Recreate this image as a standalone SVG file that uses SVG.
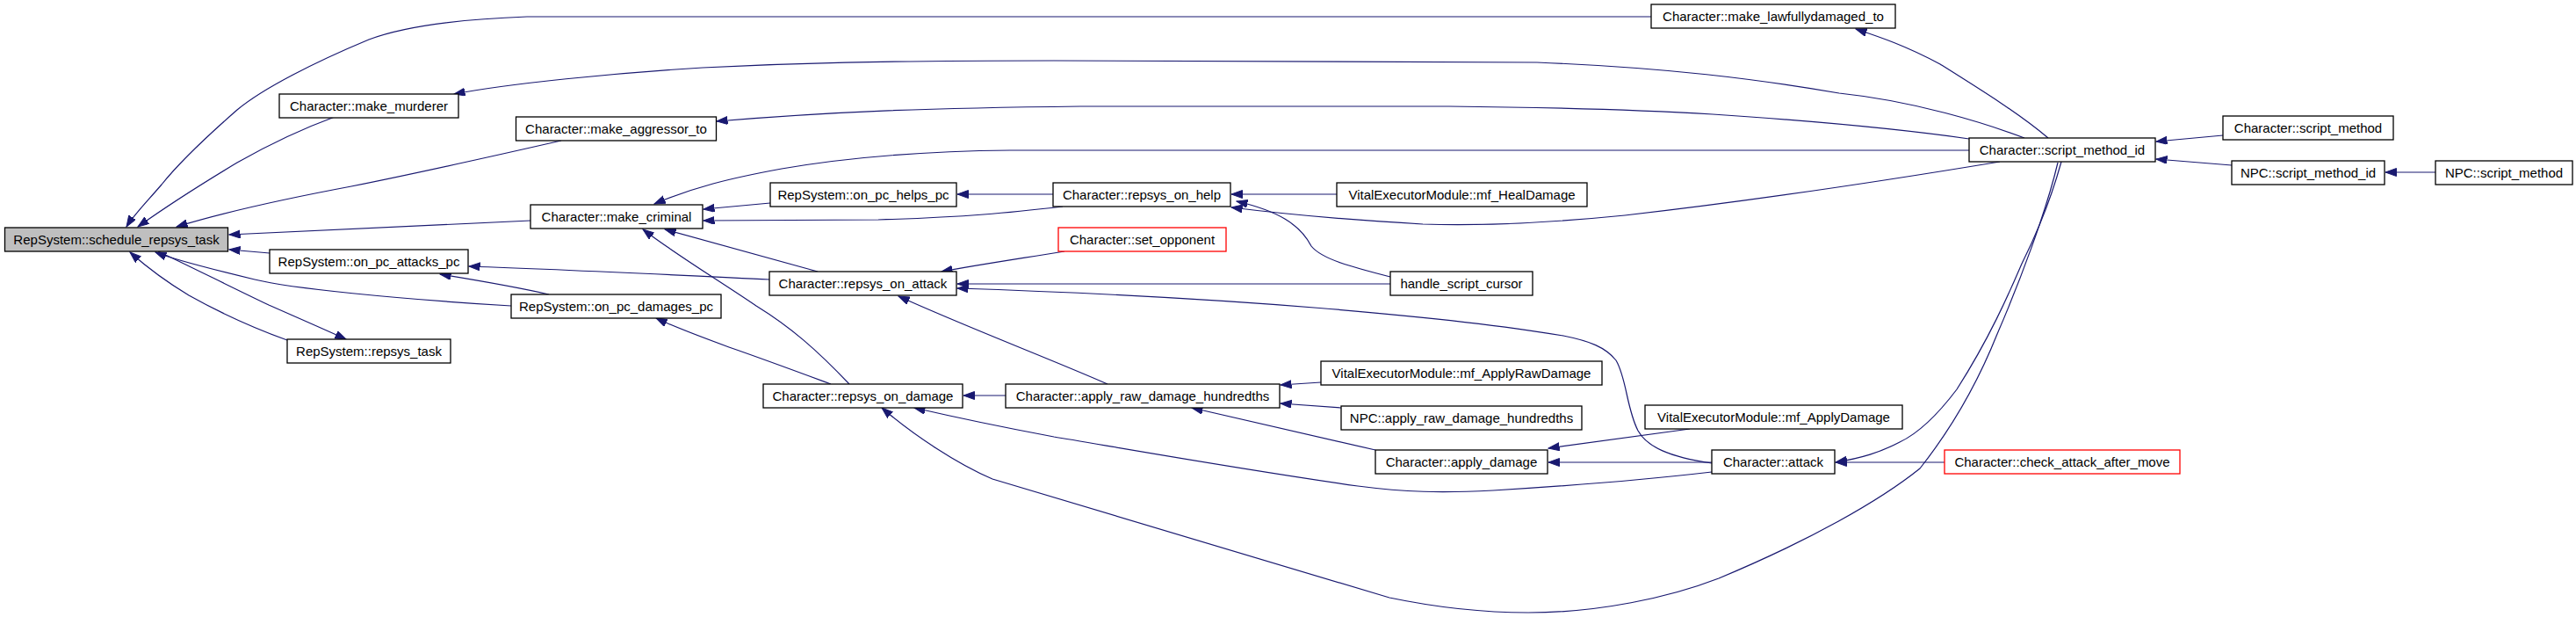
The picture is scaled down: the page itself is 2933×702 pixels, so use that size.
<svg xmlns="http://www.w3.org/2000/svg" width="2933" height="702" viewBox="0 0 2933 702">
<defs>
<style>
.n rect{fill:#ffffff;stroke:#000000;stroke-width:1.3}
.n.root rect{fill:#bfbfbf}
.n.red rect{stroke:#ff0000}
.n text{font-family:"Liberation Sans",Arial,sans-serif;font-size:15px;fill:#000000;text-anchor:middle}
#edges path{fill:none;stroke:#191970;stroke-width:1.2;marker-end:url(#ah)}
</style>
<marker id="ah" markerUnits="userSpaceOnUse" markerWidth="14" markerHeight="10" refX="12.5" refY="4.5" orient="auto">
<path d="M0,0 L12.5,4.5 L0,9 z" fill="#191970" stroke="#191970" stroke-width="1"/>
</marker>
</defs>
<rect width="2933" height="702" fill="#ffffff"/>
<g id="edges">
<path d="M1880,19 L600,19 C520,22 460,30 420,45 C360,70 300,100 270,125 C230,160 200,190 184,210 C165,232 152,245 144,258"/>
<path d="M381,133 C340,148 300,168 270,185 C220,215 185,238 157,258"/>
<path d="M639,160 C560,178 470,198 400,212 C320,227 250,243 201,258"/>
<path d="M604,251 L261,267"/>
<path d="M307,288 L261,284"/>
<path d="M582,348 C450,340 330,328 290,318 C240,306 200,296 177,287"/>
<path d="M327,387 C280,370 240,350 215,336 C185,318 165,302 148,287"/>
<path d="M180,286 C210,300 260,325 306,347 C340,362 370,375 394,386"/>
<path d="M2305,157 C2260,140 2180,115 2094,106 C2000,90 1900,77 1750,71 L1200,69 C1000,69 900,72 800,77 C700,83 580,95 517,107"/>
<path d="M2242,158 C2200,152 2100,140 1950,130 C1850,124 1750,122 1650,121 L1230,121 C1050,123 950,127 816,138"/>
<path d="M2242,171 L1150,171 C1050,172 960,180 890,192 C830,203 790,213 745,232"/>
<path d="M1199,221 L1090,221"/>
<path d="M1210,235 C1150,242 1100,247 1000,250 L801,251"/>
<path d="M877,231 L801,238"/>
<path d="M876,318 C750,312 650,307 534,303"/>
<path d="M625,335 C590,327 550,320 501,312"/>
<path d="M931,309 L757,261"/>
<path d="M967,437 C930,398 900,372 861,348 C820,320 770,290 732,261"/>
<path d="M946,437 C900,420 865,407 830,395 C800,384 770,373 747,362"/>
<path d="M2277,184 C2150,205 2000,228 1850,245 C1750,255 1680,257 1620,255 C1530,250 1450,242 1402,236"/>
<path d="M1522,221 L1402,221"/>
<path d="M1583,315 C1540,304 1505,295 1493,280 C1480,255 1455,240 1408,229"/>
<path d="M1212,286 C1150,296 1110,302 1072,309"/>
<path d="M1583,323 L1090,323"/>
<path d="M1949,527 C1900,520 1875,508 1865,490 C1852,465 1852,430 1840,410 C1828,395 1810,388 1780,382 C1650,360 1400,338 1090,328"/>
<path d="M1261,437 C1200,410 1100,372 1023,337"/>
<path d="M1145,450 L1097,450"/>
<path d="M1949,537 C1880,545 1800,552 1700,558 C1640,561 1600,560 1546,553 C1400,532 1250,505 1200,497 C1120,482 1080,473 1041,464"/>
<path d="M2343,185 C2330,240 2300,320 2274,380 C2250,440 2220,490 2186,533 C2140,570 2060,615 1957,658 C1900,680 1820,697 1740,697 C1680,697 1630,690 1582,680 L1130,545 C1090,528 1040,495 1004,464"/>
<path d="M2347,184 C2337,220 2322,260 2302,300 C2287,335 2265,385 2228,443 C2200,480 2180,495 2163,503 C2140,515 2120,521 2090,526"/>
<path d="M2214,526 L2090,526"/>
<path d="M1949,526 L1763,526"/>
<path d="M1924,488 L1763,510"/>
<path d="M1566,512 L1357,464"/>
<path d="M1504,435 L1458,438"/>
<path d="M1527,464 L1458,459"/>
<path d="M2332,157 C2300,130 2260,105 2209,73 C2170,52 2140,42 2113,33"/>
<path d="M2531,154 L2455,161"/>
<path d="M2541,188 L2455,181"/>
<path d="M2773,196 L2716,196"/>
</g>
<g id="n_schedule_repsys_task" class="n root"><rect x="5.5" y="259" width="254" height="27"/><text x="132.5" y="278">RepSystem::schedule_repsys_task</text></g>
<g id="n_make_murderer" class="n"><rect x="318" y="107" width="204" height="27"/><text x="420" y="126">Character::make_murderer</text></g>
<g id="n_make_aggressor_to" class="n"><rect x="587.5" y="133" width="228" height="27"/><text x="701.5" y="152">Character::make_aggressor_to</text></g>
<g id="n_make_criminal" class="n"><rect x="604" y="233" width="196" height="27"/><text x="702" y="252">Character::make_criminal</text></g>
<g id="n_on_pc_attacks_pc" class="n"><rect x="307" y="284" width="226" height="27"/><text x="420" y="303">RepSystem::on_pc_attacks_pc</text></g>
<g id="n_on_pc_damages_pc" class="n"><rect x="582" y="335" width="239" height="27"/><text x="701.5" y="354">RepSystem::on_pc_damages_pc</text></g>
<g id="n_repsys_task" class="n"><rect x="327" y="386" width="186" height="27"/><text x="420" y="405">RepSystem::repsys_task</text></g>
<g id="n_on_pc_helps_pc" class="n"><rect x="877" y="208" width="212" height="27"/><text x="983" y="227">RepSystem::on_pc_helps_pc</text></g>
<g id="n_repsys_on_attack" class="n"><rect x="876" y="309" width="213" height="27"/><text x="982.5" y="328">Character::repsys_on_attack</text></g>
<g id="n_repsys_on_damage" class="n"><rect x="869" y="437" width="227" height="27"/><text x="982.5" y="456">Character::repsys_on_damage</text></g>
<g id="n_repsys_on_help" class="n"><rect x="1199" y="208" width="202" height="27"/><text x="1300" y="227">Character::repsys_on_help</text></g>
<g id="n_set_opponent" class="n red"><rect x="1205" y="259" width="191" height="27"/><text x="1300.5" y="278">Character::set_opponent</text></g>
<g id="n_apply_raw_damage_hundredths" class="n"><rect x="1145" y="437" width="312" height="27"/><text x="1301" y="456">Character::apply_raw_damage_hundredths</text></g>
<g id="n_make_lawfullydamaged_to" class="n"><rect x="1880" y="5" width="278" height="27"/><text x="2019" y="24">Character::make_lawfullydamaged_to</text></g>
<g id="n_script_method_id" class="n"><rect x="2242" y="157" width="212" height="27"/><text x="2348" y="176">Character::script_method_id</text></g>
<g id="n_mf_HealDamage" class="n"><rect x="1522" y="208" width="285" height="27"/><text x="1664.5" y="227">VitalExecutorModule::mf_HealDamage</text></g>
<g id="n_handle_script_cursor" class="n"><rect x="1583" y="309" width="162" height="27"/><text x="1664" y="328">handle_script_cursor</text></g>
<g id="n_mf_ApplyRawDamage" class="n"><rect x="1504" y="411" width="320" height="27"/><text x="1664" y="430">VitalExecutorModule::mf_ApplyRawDamage</text></g>
<g id="n_npc_apply_raw_damage_hundredths" class="n"><rect x="1527" y="462" width="274" height="27"/><text x="1664" y="481">NPC::apply_raw_damage_hundredths</text></g>
<g id="n_apply_damage" class="n"><rect x="1566" y="512" width="196" height="27"/><text x="1664" y="531">Character::apply_damage</text></g>
<g id="n_mf_ApplyDamage" class="n"><rect x="1873" y="461" width="293" height="27"/><text x="2019.5" y="480">VitalExecutorModule::mf_ApplyDamage</text></g>
<g id="n_attack" class="n"><rect x="1949" y="512" width="140" height="27"/><text x="2019" y="531">Character::attack</text></g>
<g id="n_check_attack_after_move" class="n red"><rect x="2214" y="512" width="268" height="27"/><text x="2348" y="531">Character::check_attack_after_move</text></g>
<g id="n_script_method" class="n"><rect x="2531" y="132" width="194" height="27"/><text x="2628" y="151">Character::script_method</text></g>
<g id="n_npc_script_method_id" class="n"><rect x="2541" y="183" width="174" height="27"/><text x="2628" y="202">NPC::script_method_id</text></g>
<g id="n_npc_script_method" class="n"><rect x="2773" y="183" width="156" height="27"/><text x="2851" y="202">NPC::script_method</text></g>
</svg>
